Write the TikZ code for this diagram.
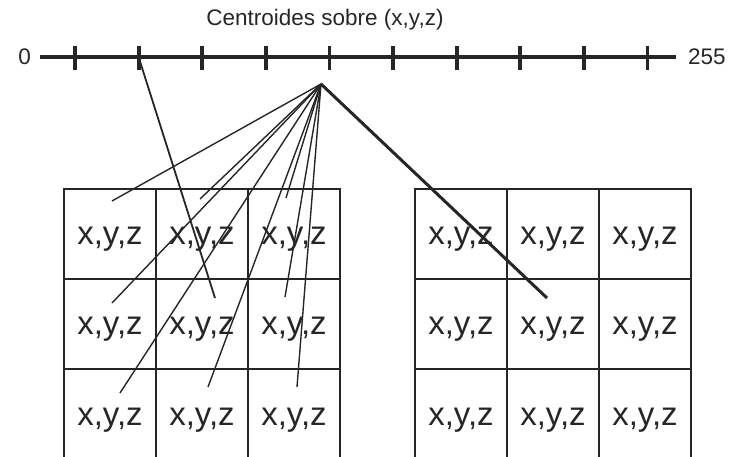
\documentclass[tikz,border=0pt]{standalone}
\usepackage{fontspec}
\setmainfont{Liberation Sans}
\usetikzlibrary{calc}
\definecolor{ink}{HTML}{262626}
\tikzset{
  cell/.style={draw=ink, line width=1.3pt, minimum width=92pt, minimum height=90pt,
               inner sep=0pt, text=ink, font=\fontsize{33}{33}\selectfont,
               text height=22pt, text depth=0pt},
  axis/.style={draw=ink, line width=4.8pt},
  tickmark/.style={draw=ink, line width=3.8pt},
  fan/.style={draw=ink, line width=1.4pt},
  lbl/.style={font=\fontsize{22.5}{22.5}\selectfont, text=ink, inner sep=0pt},
}

\begin{document}
\begin{tikzpicture}[x=1pt, y=-1pt]
  \useasboundingbox (0,0) rectangle (732,457);
  \clip (0,0) rectangle (732,457);
  % scale 0..255 with its ticks
  \node[lbl] (title) at (325,20) {Centroides sobre (x,y,z)};
  \coordinate (a0) at (40,57);
  \coordinate (a1) at (676,57);
  \draw[axis] (a0) -- (a1);
  \node[lbl, anchor=east] (zero) at (31,57) {0};
  \node[lbl, anchor=west] (max) at (688,57) {255};
  \foreach \i in {1,...,10} {
    \coordinate (t\i) at ({75+63.6*(\i-1)},57);
    \draw[tickmark] ($(t\i)+(0,-11)$) -- ($(t\i)+(0,13)$);
  }
  % the two grids of pixels
  \foreach \r in {1,2,3} {
    \foreach \c in {1,2,3} {
      \node[cell] (L\r\c) at ({110+92*(\c-1)},{234+90*(\r-1)}) {x,y,z};
      \node[cell] (R\r\c) at ({461+92*(\c-1)},{234+90*(\r-1)}) {x,y,z};
    }
  }
  % line ends inside the cells
  \coordinate (apex) at (321,84);
  \coordinate (e11) at (112,201);
  \coordinate (e12) at (200,199);
  \coordinate (e13) at (286,198);
  \coordinate (e21) at (112,303);
  \coordinate (e22) at (215,298);
  \coordinate (e23) at (285,297);
  \coordinate (e31) at (120,393);
  \coordinate (e32) at (208,387);
  \coordinate (e33) at (297,387);
  \coordinate (eR) at (547,298);

  \foreach \e in {e11,e12,e13,e21,e23,e31,e32,e33}
    \draw[fan] (apex) -- (\e);
  \draw[fan, line width=1.8pt] (t2) -- (e22);
  \draw[fan, line width=3pt] (apex) -- (eR);
\end{tikzpicture}
\end{document}
